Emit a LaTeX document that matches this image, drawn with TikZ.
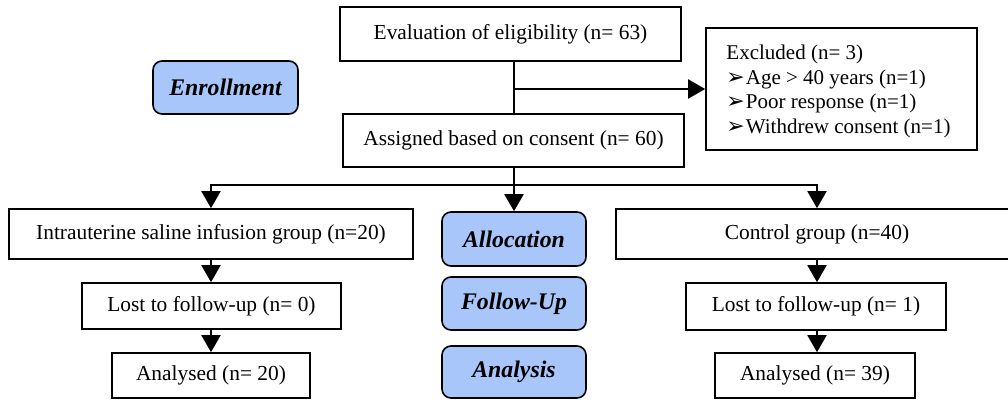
\documentclass[tikz,border=0pt]{standalone}
\usepackage{fontspec}
\setmainfont{Liberation Serif}
\newfontfamily\dejavu{DejaVu Sans}
\usetikzlibrary{arrows.meta,calc}
\definecolor{phaseblue}{RGB}{168,198,250}
\newcommand{\bul}{{\dejavu\fontsize{22}{16}\selectfont ➢}\hspace{1pt}}
\begin{document}
\begin{tikzpicture}[x=1pt,y=-1pt,
  box/.style={draw, line width=1.6pt, inner sep=0pt, font=\fontsize{21.4}{25}\selectfont},
  phase/.style={draw, line width=1.6pt, rounded corners=9pt, fill=phaseblue, inner sep=0pt,
                minimum width=144pt, font=\fontsize{23.8}{28}\selectfont\bfseries\itshape},
  arr/.style={line width=2pt, -{Triangle[width=19pt,length=17pt]}},
  ln/.style={line width=2pt}]
\useasboundingbox (0,0) rectangle (1008,399);

% top
\node[box, minimum width=341pt, minimum height=54pt] (eval) at (510.5,34) {Evaluation of eligibility (n= 63)};
\node[box, minimum width=341pt, minimum height=53pt] (assign) at (513.5,140.5) {Assigned based on consent (n= 60)};
\node[box, minimum width=271pt, minimum height=122pt] (excl) at (841.5,89) {};
\node[inner sep=0pt, align=left, font=\fontsize{21}{24.8}\selectfont] (excltext) at ($(excl.center)+(-3,2.5)$)
  {Excluded (n= 3)\\\bul Age > 40 years (n=1)\\\bul Poor response (n=1)\\\bul Withdrew consent (n=1)};

% phases
\node[phase, minimum width=145pt, minimum height=53pt] (enroll) at (225.5,87.5) {Enrollment};
\node[phase, minimum height=54pt] (alloc) at (514,239) {Allocation};
\node[phase, minimum height=53pt] (follow) at (514,303.5) {Follow-Up};
\node[phase, minimum height=52pt] (analysis) at (514,372) {Analysis};

% left arm
\node[box, minimum width=404pt, minimum height=50pt] (int) at (211,234) {Intrauterine saline infusion group (n=20)};
\node[box, minimum width=259pt, minimum height=46pt] (lostL) at (211.5,306) {Lost to follow-up (n= 0)};
\node[box, minimum width=198pt, minimum height=45pt] (anaL) at (211,375.5) {Analysed (n= 20)};

% right arm
\node[box, minimum width=402pt, minimum height=50pt] (ctrl) at (817,234) {Control group (n=40)};
\node[box, minimum width=260pt, minimum height=47pt] (lostR) at (816,306.5) {Lost to follow-up (n= 1)};
\node[box, minimum width=200pt, minimum height=45pt] (anaR) at (815,375.5) {Analysed (n= 39)};

% connectors
\draw[ln] (eval.south -| alloc) -- (assign.north -| alloc);
\draw[arr] (excl.west -| alloc) -- (excl.west);
\coordinate (split) at (514,185);
\draw[arr] (assign.south -| alloc) -- (alloc.north);
\draw[arr] (split) -| (int.north);
\draw[arr] (split) -| (ctrl.north);
\draw[arr] (int.south) -- (lostL.north -| int.south);
\draw[arr] (lostL.south -| int.south) -- (anaL.north -| int.south);
\draw[arr] (ctrl.south) -- (lostR.north -| ctrl.south);
\draw[arr] (lostR.south -| ctrl.south) -- (anaR.north -| ctrl.south);
\end{tikzpicture}
\end{document}
